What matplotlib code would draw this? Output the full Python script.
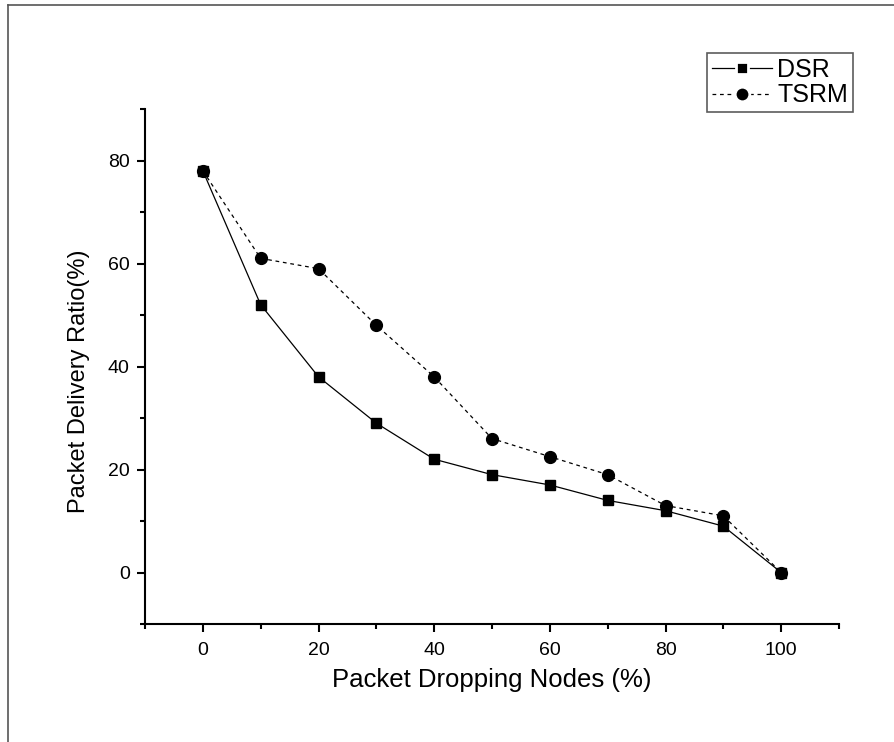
import matplotlib
matplotlib.use('Agg')
import matplotlib.pyplot as plt
from matplotlib.lines import Line2D
from matplotlib.ticker import MultipleLocator

plt.rcParams['font.family'] = ['Liberation Sans', 'DejaVu Sans']

nodes = [0, 10, 20, 30, 40, 50, 60, 70, 80, 90, 100]
dsr = [78, 52, 38, 29, 22, 19, 17, 14, 12, 9, 0]
tsrm = [78, 61, 59, 48, 38, 26, 22.5, 19, 13, 11, 0]

W, H = 894, 742
fig = plt.figure(figsize=(W / 100, H / 100), dpi=100)
ax = fig.add_axes([145 / W, 1 - 624 / H, (839 - 145) / W, (624 - 109) / H])

ax.plot(nodes, dsr, color='black', lw=0.9, marker='s', ms=7)
ax.plot(nodes, tsrm, color='black', lw=0.9, ls=(0, (3, 3)), marker='o', ms=8.5)

ax.set_xlim(-10, 110)
ax.set_ylim(-10, 90)
ax.xaxis.set_major_locator(MultipleLocator(20))
ax.xaxis.set_minor_locator(MultipleLocator(10))
ax.yaxis.set_major_locator(MultipleLocator(20))
ax.yaxis.set_minor_locator(MultipleLocator(10))
ax.tick_params(which='major', direction='out', length=6, width=1.5, labelsize=14)
ax.tick_params(axis='x', which='major', pad=7)
ax.tick_params(axis='y', which='major', pad=5)
ax.tick_params(which='minor', direction='out', length=3.5, width=1.5)
for s in ['top', 'right']:
    ax.spines[s].set_visible(False)
for s in ['left', 'bottom']:
    ax.spines[s].set_linewidth(1.5)

ax.set_xlabel('Packet Dropping Nodes (%)', fontsize=18.5)
ax.set_ylabel('Packet Delivery Ratio(%)', fontsize=17)
ax.xaxis.set_label_coords(0.5, (624 - 668) / 515)
ax.yaxis.set_label_coords((90 - 145) / 694, (624 - 381) / 515)

# legend handles: line broken around the marker, as in the original
h_dsr = Line2D([], [], color='black', lw=0.9, marker='s', ms=9, mec='white', mew=2, mfc='black')
h_tsrm = Line2D([], [], color='black', lw=0.9, ls=(0, (3, 3)), marker='o', ms=10.5, mec='white', mew=2, mfc='black')
leg = ax.legend([h_dsr, h_tsrm], ['DSR', 'TSRM'], loc='upper right',
                bbox_to_anchor=(853 / W, 1 - 53 / H), bbox_transform=fig.transFigure,
                fontsize=18, frameon=True, fancybox=False, edgecolor='#333333',
                handlelength=2.4, handletextpad=0.2, borderpad=0.2,
                labelspacing=0.05, borderaxespad=0)
leg.get_frame().set_linewidth(1.2)

# outer page border (top and left only)
fig.add_artist(Line2D([8 / W, 1], [1 - 5 / H, 1 - 5 / H], transform=fig.transFigure,
                      color='#555555', lw=1.2))
fig.add_artist(Line2D([8 / W, 8 / W], [0, 1 - 5 / H], transform=fig.transFigure,
                      color='#555555', lw=1.2))

fig.savefig('out.png', dpi=100)
